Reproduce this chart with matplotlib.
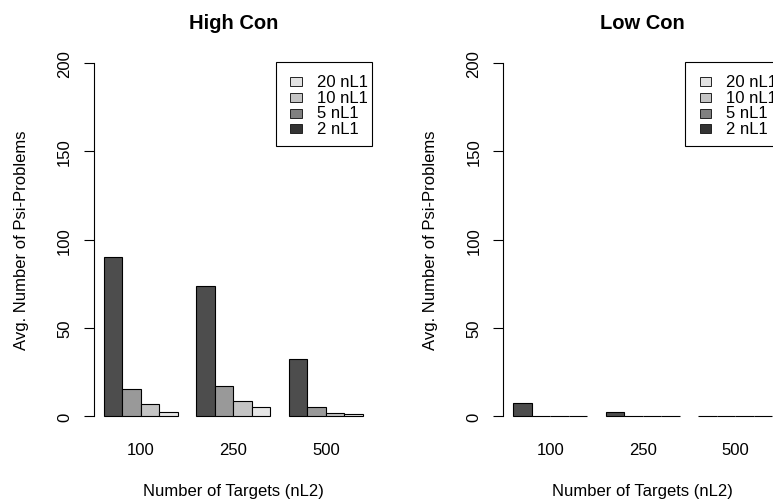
import matplotlib
matplotlib.use("Agg")
import matplotlib.pyplot as plt
from matplotlib.patches import Rectangle

plt.rcParams['font.family'] = ['Liberation Sans', 'DejaVu Sans']
plt.rcParams['font.size'] = 12

targets = ["100", "250", "500"]
series_labels = ["2 nL1", "5 nL1", "10 nL1", "20 nL1"]
bar_colors = ["#4d4d4d", "#999999", "#c4c4c4", "#e6e6e6"]
legend_colors = ["#333333", "#808080", "#c4c4c4", "#e2e2e2"]

high_2 = [90, 73.5, 32.7]
high_5 = [15.5, 17.4, 5.5]
high_10 = [6.8, 8.6, 2.0]
high_20 = [2.5, 5.5, 1.1]

low_2 = [7.6, 2.2, 0]
low_5 = [0, 0, 0]
low_10 = [0, 0, 0]
low_20 = [0, 0, 0]

W, H = 773, 502
AX_W, AX_H = 279.7, 381.5   # plot region in pixels
AX_TOP = 49.9


def draw_legend(ax):
    # R style legend box, positions in pixels from the plot region's top-left
    def pt(dx, dy):
        return dx / AX_W, 1 - dy / AX_H
    x0, y0 = pt(182.4, 13.1)
    x1, y1 = pt(278.4, 97.1)
    ax.add_patch(Rectangle((x0, y1), x1 - x0, y0 - y1, transform=ax.transAxes,
                           facecolor="white", edgecolor="black", lw=0.8,
                           clip_on=False, zorder=5))
    rows = list(zip(series_labels, legend_colors))[::-1]
    for i, (lab, col) in enumerate(rows):
        cy = 32.6 + i * 15.75
        sx, sy = pt(196.8, cy + 4.5)
        ax.add_patch(Rectangle((sx, sy), 11.5 / AX_W, 9 / AX_H, transform=ax.transAxes,
                               facecolor=col, edgecolor="#222222", lw=0.7,
                               clip_on=False, zorder=6))
        tx, ty = pt(223.1, cy)
        ax.text(tx, ty, lab, transform=ax.transAxes, ha="left", va="center",
                fontsize=12, zorder=7, clip_on=False)


def panel(ax, title, series):
    for j, vals in enumerate(series):
        xs = [1 + g * 5 + j for g in range(len(targets))]
        ax.bar(xs, vals, width=1, align="edge", color=bar_colors[j],
               edgecolor="black", linewidth=0.8)
    ax.set_xlim(0.44, 15.56)
    ax.set_ylim(-8, 208)
    ax.set_xticks([3 + g * 5 for g in range(len(targets))])
    ax.set_xticklabels(targets)
    ax.set_yticks([0, 50, 100, 150, 200])
    ax.set_yticklabels(["0", "50", "100", "150", "200"], rotation=90,
                       ha="center", va="center")
    ax.tick_params(axis="x", length=0, pad=8, labelsize=12)
    ax.tick_params(axis="y", length=7.2, width=0.8, pad=13.7, labelsize=12)
    for s in ["top", "right", "bottom"]:
        ax.spines[s].set_visible(False)
    ax.spines["left"].set_bounds(0, 200)
    ax.spines["left"].set_linewidth(0.8)
    ax.set_title(title, fontweight="bold", fontsize=14.5, pad=15)
    ax.set_xlabel("Number of Targets (nL2)")
    ax.xaxis.set_label_coords(0.5, -(492 - 431.4) / AX_H)
    ax.xaxis.label.set_va("center")
    ax.set_ylabel("Avg. Number of Psi-Problems")
    ax.yaxis.set_label_coords(-(93.6 - 21) / AX_W, 0.5)
    ax.yaxis.label.set_va("center")
    draw_legend(ax)


fig = plt.figure(figsize=(W / 100, H / 100), dpi=100)
bottom = (H - 431.4) / H
ax1 = fig.add_axes([93.6 / W, bottom, AX_W / W, AX_H / H])
ax2 = fig.add_axes([503.0 / W, bottom, AX_W / W, AX_H / H])
ax1.patch.set_alpha(0)
ax2.patch.set_alpha(0)

panel(ax1, "High Con", [high_2, high_5, high_10, high_20])
panel(ax2, "Low Con", [low_2, low_5, low_10, low_20])

fig.savefig("out.png", dpi=100)
